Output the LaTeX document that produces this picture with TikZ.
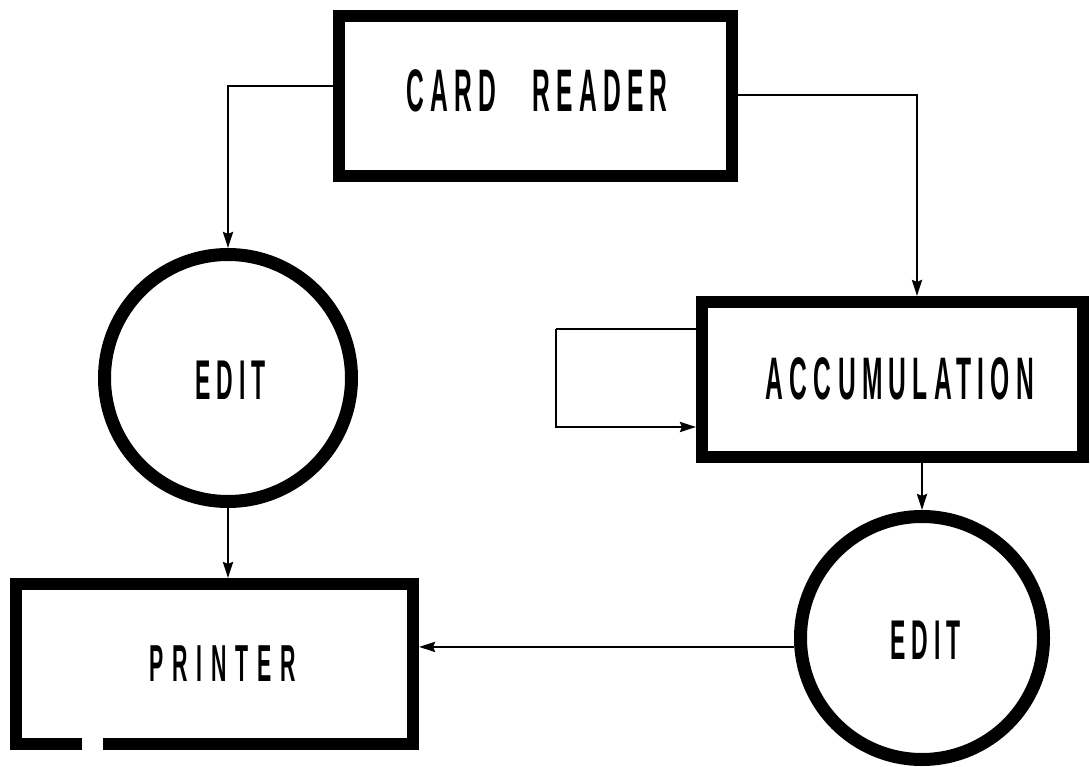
\documentclass[tikz,border=0pt]{standalone}
\usepackage{fontspec}
\newfontfamily\lblfont[FakeStretch=0.41,LetterSpace=10.5]{Liberation Sans}
\usetikzlibrary{arrows.meta}
\begin{document}
\begin{tikzpicture}[x=1pt,y=-1pt,
  blk/.style={draw=black,line width=12pt,rectangle,inner sep=0pt},
  proc/.style={draw=black,line width=13pt,circle,inner sep=0pt},
  lbl/.style={font=\lblfont\bfseries\fontsize{#1}{#1}\selectfont},
  arr/.style={line width=2.6pt,-{Stealth[length=16pt,width=10pt,inset=2pt]}},
  ln/.style={line width=2.6pt}]
\useasboundingbox (0,0) rectangle (1090,767);
% shapes
\node[blk,minimum width=393pt,minimum height=160pt] (card) at (535.5,96) {};
\node[blk,minimum width=381pt,minimum height=155pt] (acc) at (892.5,379.5) {};
\node[blk,minimum width=397pt,minimum height=160pt] (printer) at (214.5,664) {};
\node[proc,minimum size=247pt] (edit1) at (228,378) {};
\node[proc,minimum size=243pt] (edit2) at (922,638) {};
\fill[white] (82,728) rectangle (103,756);
% labels
\node[lbl=60] (tcard) at (537,91) {CARD\hspace{36pt}READER};
\node[lbl=60] (tacc) at (900,378.5) {ACCUMULATION};
\node[lbl=52] (tprinter) at (223,664) {\addfontfeature{LetterSpace=17}PRINTER};
\node[lbl=56] (tedit1) at (230.5,380) {EDIT};
\node[lbl=56] (tedit2) at (925.5,640.5) {EDIT};
% connectors
\draw[arr] ([yshift=10pt]card.west) -| (edit1.north);
\draw[arr] ([yshift=1pt]card.east) -| ([xshift=24.5pt]acc.north);
\coordinate (loopc) at ([xshift=-140pt,yshift=50.5pt]acc.west);
\draw[ln] ([yshift=50.5pt]acc.west) -- (loopc);
\draw[arr] (loopc) |- ([yshift=-47.5pt]acc.west);
\draw[arr] (edit2.north |- acc.south) -- (edit2.north);
\draw[arr] (edit1.south) -- (edit1.south |- printer.north);
\draw[arr] (edit2.184) -- (edit2.184 -| printer.east);
\end{tikzpicture}
\end{document}
